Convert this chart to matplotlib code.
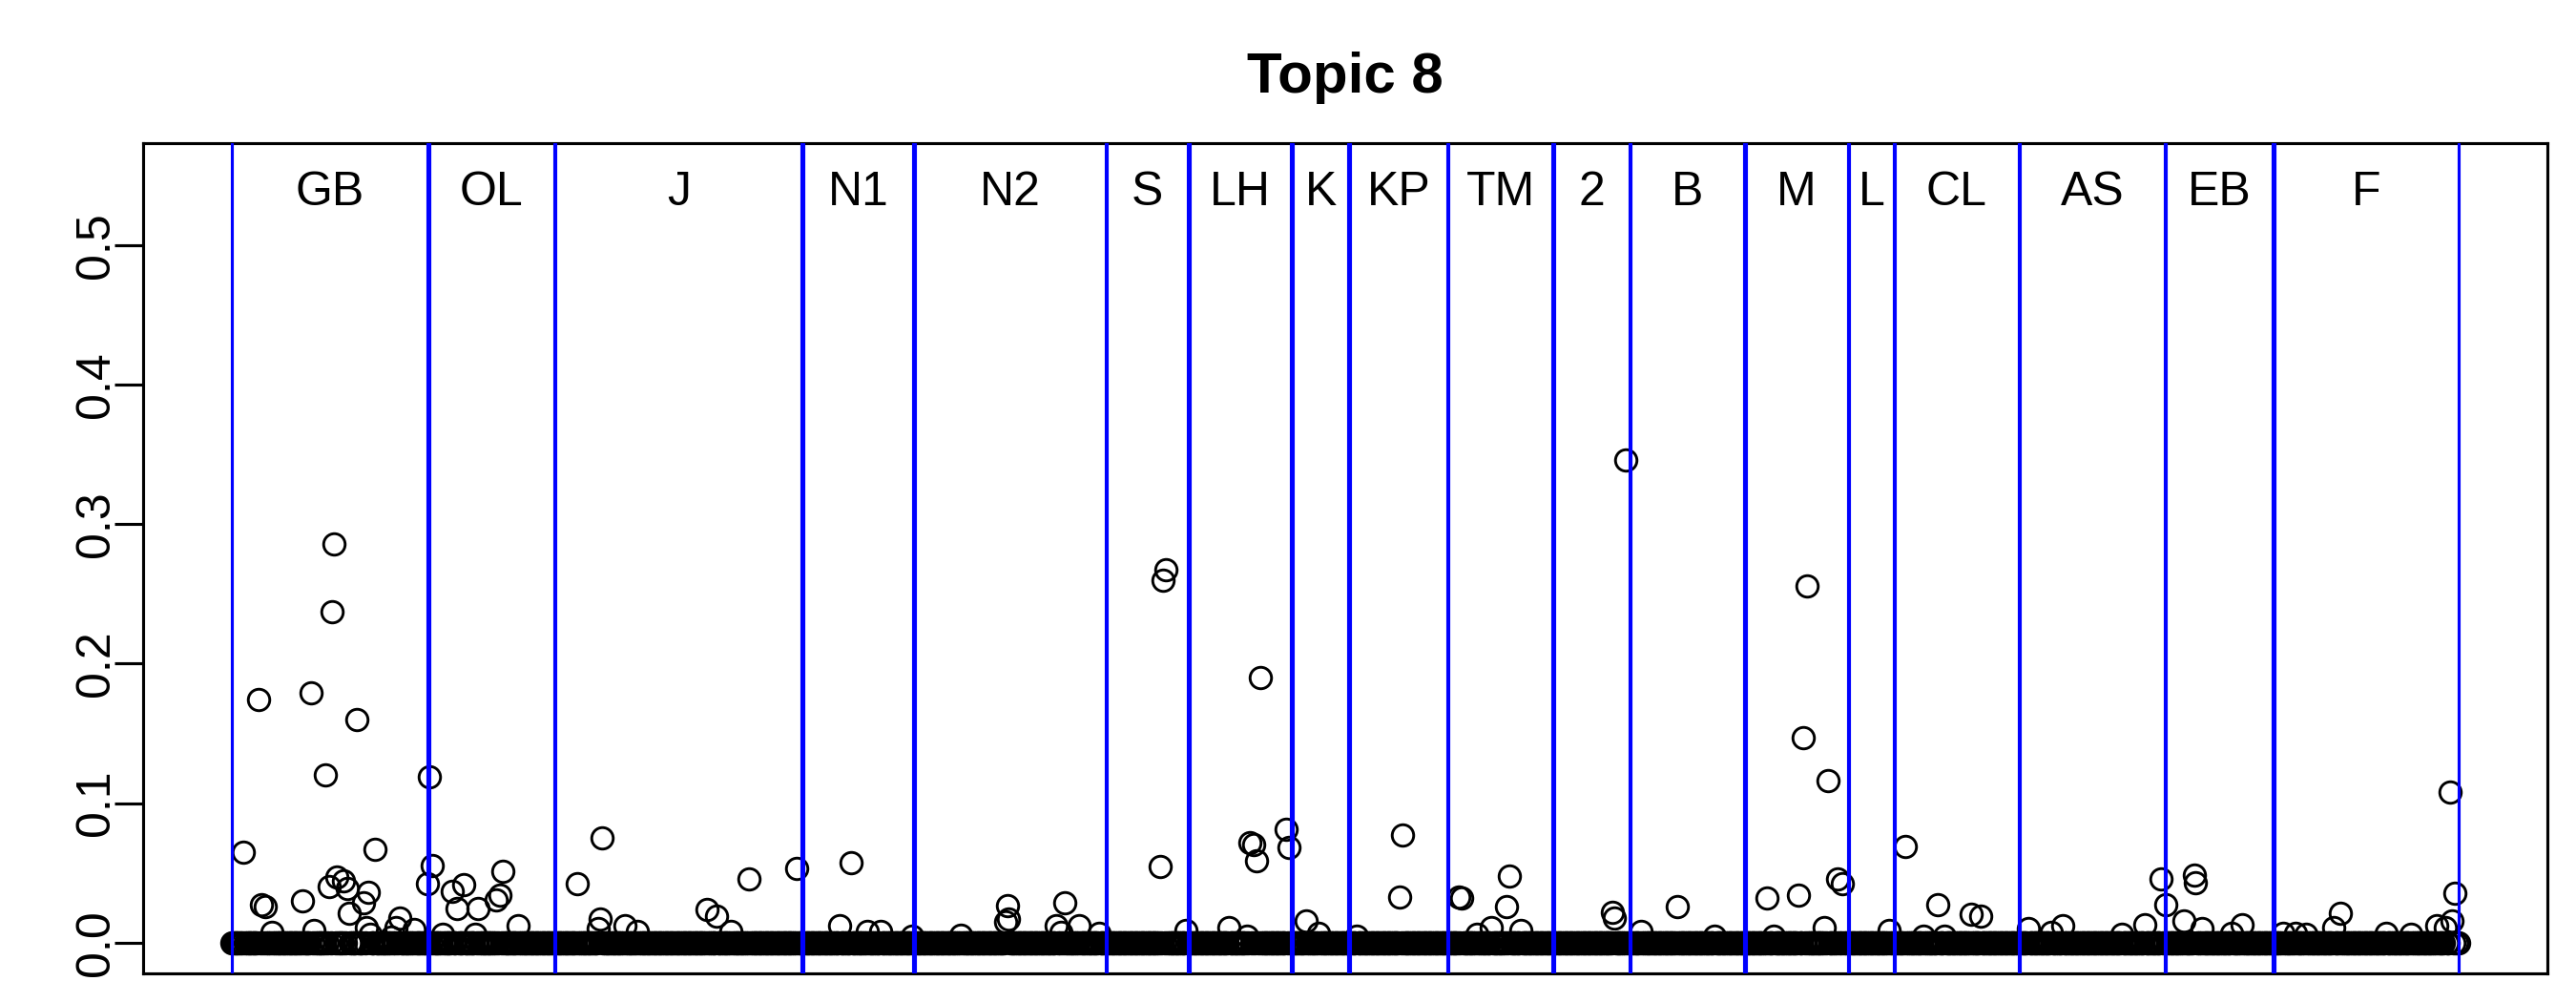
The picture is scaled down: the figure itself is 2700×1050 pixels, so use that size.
import numpy as np
import matplotlib
matplotlib.use("Agg")
import matplotlib.pyplot as plt

plt.rcParams['font.family'] = ['Liberation Sans', 'DejaVu Sans']

# secoes (rotulos e numero de documentos em cada uma)
secoes = ["GB", "OL", "J", "N1", "N2", "S", "LH", "K", "KP", "TM",
          "2", "B", "M", "L", "CL", "AS", "EB", "F"]
tamanhos = [120, 77, 151, 68, 117, 50, 63, 35, 60, 64,
            47, 70, 63, 28, 76, 89, 66, 113]

# documentos com valor diferente de zero (indice, valor); o resto e zero
idx_nz = [8, 17, 19, 21, 25, 44, 49, 51, 58, 60, 62, 63, 65, 69, 71, 72, 77,
          81, 83, 84, 85, 88, 98, 101, 103, 112, 120,
          121, 123, 129, 135, 138, 142, 149, 151, 162, 164, 166, 175,
          211, 224, 225, 226, 240, 248, 290, 296, 305, 316, 345,
          371, 378, 388, 396, 415,
          445, 472, 473, 474, 503, 506, 508, 517, 529,
          566, 568, 570, 582,
          608, 619, 621, 623, 625, 627, 643, 645,
          655, 663,
          686, 712, 714,
          748, 750, 759, 768, 777, 779, 786,
          842, 843, 850,
          859, 881, 904,
          936, 940, 955, 958, 960, 971, 973, 979, 982,
          1010,
          1020, 1031, 1040, 1044, 1060, 1066,
          1095, 1109, 1116, 1152, 1166, 1176,
          1179, 1190, 1196, 1197, 1201, 1219, 1225,
          1250, 1258, 1264, 1281, 1285, 1313, 1328, 1344, 1349, 1352, 1353, 1355]
val_nz = [0.065, 0.174, 0.027, 0.026, 0.0075, 0.030, 0.179, 0.0087, 0.1205, 0.040,
          0.237, 0.286, 0.047, 0.0445, 0.039, 0.021, 0.160,
          0.0285, 0.011, 0.036, 0.006, 0.067, 0.004, 0.011, 0.0178, 0.0098, 0.042,
          0.1187, 0.0554, 0.006, 0.0367, 0.0246, 0.0417, 0.006, 0.0246, 0.0308,
          0.0338, 0.0515, 0.012,
          0.042, 0.010, 0.017, 0.0754, 0.012, 0.008, 0.024, 0.019, 0.008, 0.046, 0.053,
          0.012, 0.057, 0.008, 0.008, 0.005,
          0.0053, 0.015, 0.0263, 0.0167, 0.012, 0.0075, 0.0287, 0.012, 0.0064,
          0.0543, 0.260, 0.267, 0.0087,
          0.011, 0.005, 0.072, 0.070, 0.059, 0.190, 0.081, 0.068,
          0.0155, 0.0067,
          0.005, 0.0326, 0.077,
          0.033, 0.032, 0.006, 0.011, 0.026, 0.048, 0.009,
          0.022, 0.018, 0.346,
          0.008, 0.026, 0.005,
          0.032, 0.005, 0.034, 0.147, 0.256, 0.011, 0.116, 0.046, 0.042,
          0.009,
          0.069, 0.005, 0.027, 0.005, 0.0205, 0.019,
          0.010, 0.0075, 0.012, 0.006, 0.013, 0.046,
          0.027, 0.0155, 0.0485, 0.043, 0.010, 0.0064, 0.013,
          0.007, 0.007, 0.006, 0.011, 0.0208, 0.007, 0.006, 0.012, 0.011,
          0.1077, 0.0155, 0.0356]

n = sum(tamanhos)
valores = np.zeros(n)
valores[np.array(idx_nz) - 1] = val_nz
x = np.arange(1, n + 1)

fim = np.cumsum(tamanhos)
inicio = fim - np.array(tamanhos) + 1

fig = plt.figure(figsize=(9, 3.5), dpi=300)
ax = fig.add_axes([150 / 2700, 30 / 1050, 2520 / 2700, 870 / 1050])

ax.plot(x, valores, "o", mfc="none", mec="black", ms=5.4, mew=0.7, zorder=2)

for a, b in zip(inicio, fim):
    ax.axvline(a, color="#0000FF", lw=0.75, zorder=3)
    ax.axvline(b, color="#0000FF", lw=0.75, zorder=3)

for lab, a, b in zip(secoes, inicio, fim):
    ax.text((a + b) / 2, 0.5285, lab, ha="center", va="baseline", fontsize=12)

pad = 0.04 * (n - 1)
ax.set_xlim(1 - pad, n + pad)
ax.set_ylim(-0.022, 0.573)
ax.set_xticks([])
ax.set_yticks([0.0, 0.1, 0.2, 0.3, 0.4, 0.5])
ax.set_yticklabels(["0.0", "0.1", "0.2", "0.3", "0.4", "0.5"],
                   rotation=90, va="center", fontsize=12)
ax.tick_params(axis="y", length=7.2, width=0.75, pad=-0.9)
for s in ax.spines.values():
    s.set_linewidth(0.75)

fig.text(1410 / 2700, 1 - 97 / 1050, "Topic 8", ha="center", va="baseline",
         fontsize=14.4, fontweight="bold")

fig.savefig("out.png", dpi=300)
